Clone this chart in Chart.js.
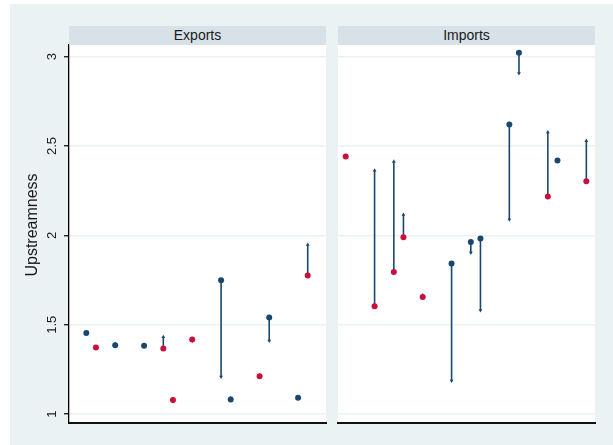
<!DOCTYPE html>
<html>
<head>
<meta charset="utf-8">
<script src="https://cdn.jsdelivr.net/npm/chart.js@4.4.0/dist/chart.umd.min.js"></script>
<style>
  body { margin: 0; background: #fff; font-family: "Liberation Sans", Arial, sans-serif; }
  #wrap { position: relative; width: 613px; height: 445px; overflow: hidden; }
  #bg { position: absolute; left: 10px; top: 4px; width: 603px; height: 441px; background: #eaf2f3; }
  canvas { position: absolute; left: 0; top: 0; }
  .strip { position: absolute; top: 26px; height: 19px; width: 257px; background: #d6e2e8;
           text-align: center; font-size: 14px; line-height: 19px; color: #1a1a1a; }
  #ytitle { position: absolute; left: -68px; top: 214px; width: 200px; height: 22px; line-height: 22px;
            text-align: center; font-size: 16px; color: #1a1a1a; transform: rotate(-90deg); }
</style>
</head>
<body>
<div id="wrap">
  <div id="bg"></div>
  <canvas id="expChart" width="613" height="445"></canvas>
  <canvas id="impChart" width="613" height="445"></canvas>
  <div class="strip" style="left:69px">Exports</div>
  <div class="strip" style="left:338px">Imports</div>
  <div id="ytitle">Upstreamness</div>
</div>
<script>
// Exports panel : position, valeur de départ (marqueur), valeur d'arrivée (flèche), groupe
const expPos = [0, 1, 3, 6, 8, 9, 11, 14, 15, 18, 19, 22, 23];
const expFrom = [1.454, 1.372, 1.385, 1.382, 1.367, 1.078, 1.417, 1.749, 1.082, 1.212, 1.540, 1.091, 1.775];
const expTo = [1.457, 1.375, 1.392, 1.385, 1.432, 1.070, 1.410, 1.208, 1.090, 1.218, 1.410, 1.094, 1.948];
const expGroup = ['A', 'B', 'A', 'A', 'B', 'B', 'B', 'A', 'A', 'B', 'A', 'A', 'B'];

// Imports panel
const impPos = [-1, 2, 4, 5, 7, 10, 12, 13, 16, 17, 20, 21, 24];
const impFrom = [2.441, 1.603, 1.795, 1.989, 1.655, 1.842, 1.963, 1.983, 2.620, 3.021, 2.218, 2.419, 2.303];
const impTo = [2.444, 2.363, 2.413, 2.116, 1.665, 1.186, 1.903, 1.581, 2.088, 2.907, 2.577, 2.421, 2.529];
const impGroup = ['B', 'B', 'B', 'B', 'B', 'A', 'A', 'A', 'A', 'A', 'B', 'A', 'B'];

// Axes
const yTicks = [1, 1.5, 2, 2.5, 3];
const yMin = 0.95, yMax = 3.065;
const xMin = -1.8, xMax = 24.9;

const navy = '#1a476f';
const groupColors = { A: '#1a476f', B: '#c8103a' };
const fontFamily = '"Liberation Sans", Arial, sans-serif';

// fond blanc de la zone de tracé
const plotBg = {
    id: 'plotBg',
    beforeDraw(chart) {
        const { ctx, chartArea: a } = chart;
        ctx.save();
        ctx.fillStyle = '#fff';
        ctx.fillRect(a.left, a.top, a.right - a.left, a.bottom - a.top);
        ctx.restore();
    }
};

function markerSet(pos, from, group, code) {
    const pts = [];
    pos.forEach((p, i) => { if (group[i] === code) pts.push({ x: p, y: from[i] }); });
    return {
        data: pts,
        pointRadius: 3,
        pointStyle: 'circle',
        pointBackgroundColor: groupColors[code],
        pointBorderColor: groupColors[code],
        pointBorderWidth: 0,
        showLine: false,
        order: 0
    };
}

function arrowSets(pos, from, to) {
    return pos.map((p, i) => ({
        data: [{ x: p, y: from[i] }, { x: p, y: to[i] }],
        showLine: true,
        borderColor: navy,
        borderWidth: 1.6,
        pointRadius: [0, 2.2],
        pointStyle: 'triangle',
        pointRotation: to[i] >= from[i] ? 0 : 180,
        pointBackgroundColor: navy,
        pointBorderWidth: 0,
        order: 1
    }));
}

function makePanel(id, pos, from, to, group, withAxis) {
    const yScale = {
        min: yMin,
        max: yMax,
        afterBuildTicks: s => { s.ticks = yTicks.map(v => ({ value: v })); },
        afterFit: s => { s.width = withAxis ? 59 : 0; },
        ticks: {
            display: withAxis,
            callback: v => String(v),
            minRotation: 90,
            maxRotation: 90,
            crossAlign: 'center',
            padding: 3,
            color: '#1a1a1a',
            font: { size: 13, family: fontFamily }
        },
        grid: {
            color: '#eaf2f3',
            lineWidth: 1.5,
            drawTicks: withAxis,
            tickLength: 5,
            tickColor: '#000',
            tickWidth: 1.2
        },
        border: { display: withAxis, color: '#000', width: 1.3 }
    };

    new Chart(document.getElementById(id), {
        type: 'scatter',
        data: {
            datasets: [
                markerSet(pos, from, group, 'A'),
                markerSet(pos, from, group, 'B'),
                ...arrowSets(pos, from, to)
            ]
        },
        options: {
            responsive: false,
            animation: false,
            events: [],
            layout: {
                padding: withAxis
                    ? { left: 10, top: 45, right: 287, bottom: 22 }
                    : { left: 338, top: 45, right: 18, bottom: 22 }
            },
            scales: {
                x: {
                    type: 'linear',
                    min: xMin,
                    max: xMax,
                    afterFit: s => { s.height = 0; },
                    ticks: { display: false },
                    grid: { display: false },
                    border: { display: true, color: '#111', width: 2 }
                },
                y: yScale
            },
            plugins: {
                legend: { display: false },
                tooltip: { enabled: false }
            }
        },
        plugins: [plotBg]
    });
}

if (typeof Chart === 'undefined') {
    console.error('Chart.js n\'est pas chargé !');
} else {
    makePanel('expChart', expPos, expFrom, expTo, expGroup, true);
    makePanel('impChart', impPos, impFrom, impTo, impGroup, false);
}
</script>
</body>
</html>
